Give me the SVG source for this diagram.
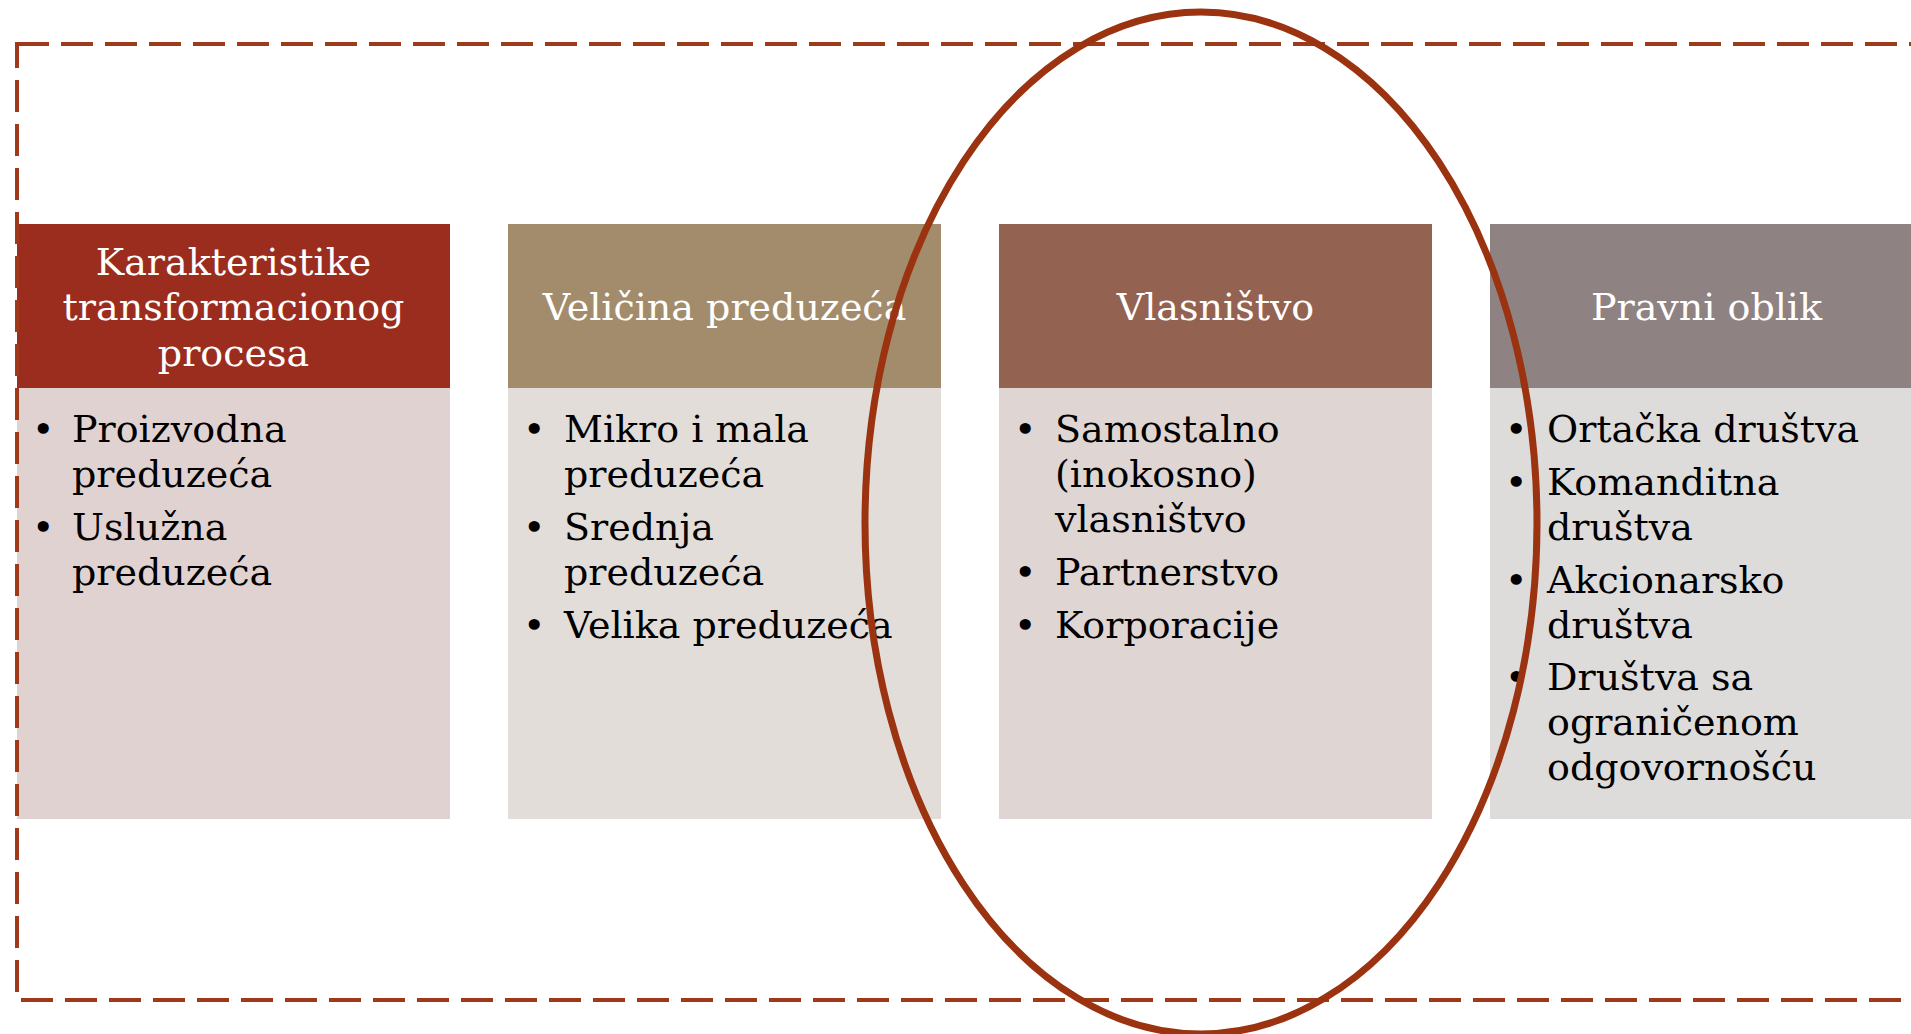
<svg xmlns="http://www.w3.org/2000/svg" width="1911" height="1034" viewBox="0 0 1911 1034">
<style>
  .hd { font-family: "DejaVu Serif", "Liberation Serif", serif; font-size: 38px; fill: #ffffff; text-anchor: middle; }
  .bd { font-family: "DejaVu Serif", "Liberation Serif", serif; font-size: 38px; fill: #000000; }
  .bl { font-family: "DejaVu Serif", "Liberation Serif", serif; font-size: 38px; fill: #000000; }
  .frame { fill: none; stroke: #a0391a; stroke-width: 4; stroke-dasharray: 32 12; }
  .ring { fill: none; stroke: #9b3311; stroke-width: 7; }
</style>
<rect width="1911" height="1034" fill="#ffffff"/>

<g id="col1">
  <rect x="17" y="224" width="433" height="164" fill="#9b2d1f"/>
  <rect x="17" y="388" width="433" height="431" fill="#e0d2d1"/>
  <text class="hd" x="233.5" y="275">Karakteristike</text>
  <text class="hd" x="233.5" y="320">transformacionog</text>
  <text class="hd" x="233.5" y="366">procesa</text>
  <text class="bl" x="32" y="442">•</text>
  <text class="bd" x="72" y="442">Proizvodna</text>
  <text class="bd" x="72" y="487">preduzeća</text>
  <text class="bl" x="32" y="540">•</text>
  <text class="bd" x="72" y="540">Uslužna</text>
  <text class="bd" x="72" y="585">preduzeća</text>
</g>

<g id="col2">
  <rect x="508" y="224" width="433" height="164" fill="#a38c6b"/>
  <rect x="508" y="388" width="433" height="431" fill="#e2ddd8"/>
  <text class="hd" x="724.5" y="320">Veličina preduzeća</text>
  <text class="bl" x="523" y="442">•</text>
  <text class="bd" x="564" y="442">Mikro i mala</text>
  <text class="bd" x="564" y="487">preduzeća</text>
  <text class="bl" x="523" y="540">•</text>
  <text class="bd" x="564" y="540">Srednja</text>
  <text class="bd" x="564" y="585">preduzeća</text>
  <text class="bl" x="523" y="638">•</text>
  <text class="bd" x="564" y="638">Velika preduzeća</text>
</g>

<g id="col3">
  <rect x="999" y="224" width="433" height="164" fill="#946251"/>
  <rect x="999" y="388" width="433" height="431" fill="#dfd5d3"/>
  <text class="hd" x="1215.5" y="320">Vlasništvo</text>
  <text class="bl" x="1014" y="442">•</text>
  <text class="bd" x="1055" y="442">Samostalno</text>
  <text class="bd" x="1055" y="487">(inokosno)</text>
  <text class="bd" x="1055" y="532">vlasništvo</text>
  <text class="bl" x="1014" y="585">•</text>
  <text class="bd" x="1055" y="585">Partnerstvo</text>
  <text class="bl" x="1014" y="638">•</text>
  <text class="bd" x="1055" y="638">Korporacije</text>
</g>

<g id="col4">
  <rect x="1490" y="224" width="433" height="164" fill="#8f8282"/>
  <rect x="1490" y="388" width="433" height="431" fill="#dedcdb"/>
  <text class="hd" x="1706.5" y="320">Pravni oblik</text>
  <text class="bl" x="1505" y="442">•</text>
  <text class="bd" x="1547" y="442">Ortačka društva</text>
  <text class="bl" x="1505" y="495">•</text>
  <text class="bd" x="1547" y="495">Komanditna</text>
  <text class="bd" x="1547" y="540">društva</text>
  <text class="bl" x="1505" y="593">•</text>
  <text class="bd" x="1547" y="593">Akcionarsko</text>
  <text class="bd" x="1547" y="638">društva</text>
  <text class="bl" x="1505" y="690">•</text>
  <text class="bd" x="1547" y="690">Društva sa</text>
  <text class="bd" x="1547" y="735">ograničenom</text>
  <text class="bd" x="1547" y="780">odgovornošću</text>
</g>

<g id="connectors"></g>

<g id="annotations">
  <rect class="frame" x="17" y="44" width="1960" height="956"/>
  <ellipse class="ring" cx="1201" cy="523" rx="336" ry="511"/>
</g>
</svg>
